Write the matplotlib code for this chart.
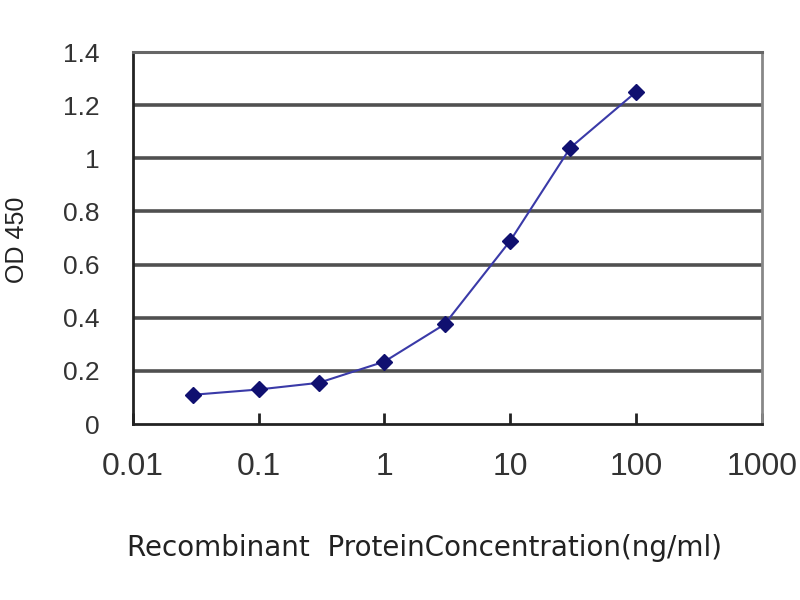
import matplotlib
matplotlib.use("Agg")
import matplotlib.pyplot as plt

concentration = [0.03, 0.1, 0.3, 1, 3, 10, 30, 100]
od450 = [0.11, 0.13, 0.155, 0.235, 0.375, 0.69, 1.04, 1.25]
x_ticks = [0.01, 0.1, 1, 10, 100, 1000]
x_tick_labels = ["0.01", "0.1", "1", "10", "100", "1000"]
y_ticks = [0, 0.2, 0.4, 0.6, 0.8, 1.0, 1.2, 1.4]
y_tick_labels = ["0", "0.2", "0.4", "0.6", "0.8", "1", "1.2", "1.4"]

plt.rcParams['font.family'] = ['Liberation Sans', 'DejaVu Sans']

fig = plt.figure(figsize=(8, 6), dpi=100)
ax = fig.add_axes([0.166, 0.2933, 0.7865, 0.62])

ax.set_xscale('log')
ax.set_xlim(0.01, 1000)
ax.set_ylim(0, 1.4)

for y in y_ticks[1:]:
    ax.axhline(y, color='#505050', lw=2.6, zorder=1)

ax.plot(concentration, od450, color='#3a3aa8', lw=1.5, marker='D',
        markersize=8, markerfacecolor='#101070', markeredgecolor='#101070', zorder=3)

ax.set_xticks(x_ticks)
ax.set_xticklabels(x_tick_labels, fontsize=23, color='#333333')
ax.xaxis.set_minor_locator(matplotlib.ticker.NullLocator())
ax.set_yticks(y_ticks)
ax.set_yticklabels(y_tick_labels, fontsize=19, color='#333333')

ax.tick_params(axis='x', direction='in', length=8, width=2, pad=20, color='#222222')
ax.tick_params(axis='y', length=0, pad=24)

for s in ['left', 'bottom']:
    ax.spines[s].set_color('#222222')
    ax.spines[s].set_linewidth(2)
ax.spines['top'].set_color('#666666')
ax.spines['top'].set_linewidth(2.2)
ax.spines['right'].set_color('#888888')
ax.spines['right'].set_linewidth(2)

ax.set_xlabel("Recombinant  ProteinConcentration(ng/ml)", fontsize=20,
              color='#222222', family=['DejaVu Sans'])
ax.xaxis.set_label_coords(0.463, -0.295)
ax.set_ylabel("OD 450", fontsize=18, color='#222222')
ax.yaxis.set_label_coords(-0.165, 0.495)

fig.savefig("out.png", dpi=100)
